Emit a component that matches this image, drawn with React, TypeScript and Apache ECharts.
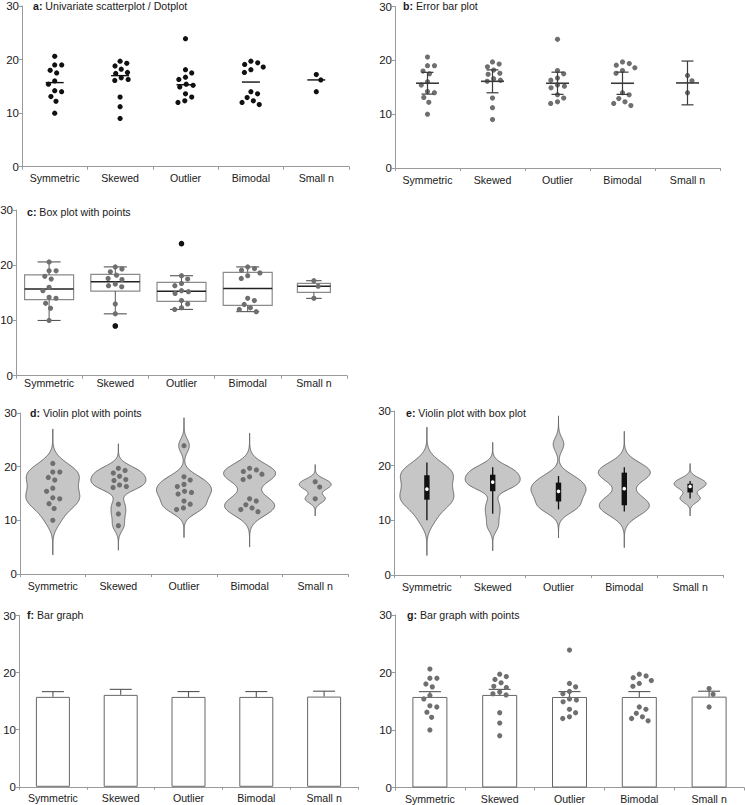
import React, { useEffect, useRef } from "react";
import * as echarts from "echarts";

// ---------- data ----------
const categories = ["Symmetric", "Skewed", "Outlier", "Bimodal", "Small n"];
const symmetric = [20.6, 19.0, 19.0, 18.0, 17.5, 16.0, 15.4, 14.2, 14.0, 13.1, 12.2, 10.0];
const skewed = [19.7, 19.3, 18.8, 18.2, 17.6, 17.4, 16.6, 16.3, 16.1, 13.0, 11.2, 9.0];
const outlier = [23.9, 18.1, 17.5, 16.7, 16.3, 15.4, 15.2, 14.9, 13.6, 13.0, 12.3, 12.0];
const bimodal = [19.7, 19.4, 19.1, 18.6, 18.1, 17.6, 14.0, 13.6, 12.9, 12.3, 12.0, 11.6];
const smallN = [17.2, 16.2, 14.0];
const groups = [symmetric, skewed, outlier, bimodal, smallN];
const tCrit = [2.201, 2.201, 2.201, 2.201, 4.303]; // t(0.975, n-1)
const yTicks = [0, 10, 20, 30];
const panelLetters = ["a", "b", "c", "d", "e", "f", "g"];
const panelTitles = [
  "Univariate scatterplot / Dotplot",
  "Error bar plot",
  "Box plot with points",
  "Violin plot with points",
  "Violin plot with box plot",
  "Bar graph",
  "Bar graph with points",
];

// ---------- layout / style ----------
const GRIDS = [
  { left: 22, top: 6, width: 327, height: 160.7 },
  { left: 395, top: 6.5, width: 325, height: 161.5 },
  { left: 16, top: 210, width: 331, height: 165.7 },
  { left: 20, top: 413, width: 328, height: 161 },
  { left: 394, top: 411, width: 329, height: 164 },
  { left: 19, top: 615.5, width: 339, height: 171.3 },
  { left: 395, top: 615, width: 349, height: 172.5 },
];
const TITLE_POS = [
  [33, 6], [403, 6], [27, 211.5], [30, 412.5], [406, 413], [27, 615], [407, 615],
];
const X_LABEL_MARGIN = [6, 6, 2, 6, 6, 6, 6];
const FONT = "'Liberation Sans', Arial, Helvetica, sans-serif";
const AXIS_COLOR = "#9a9a9a";
const TEXT_COLOR = "#1a1a1a";
const GREY_PT = "#6f6f6f";
const PT_R = 2.6;
const SWARM_D = 7.0;
const BOX_W = [49, 49, 49, 49, 33];
const VIOLIN_HW = [27, 27.5, 27.5, 26, 16];
const VIOLIN_BW_ADJ = 0.88;
const VIOLIN_CUT = 4.2;

// ---------- statistics ----------
function quantile(sorted: number[], p: number) {
  const h = (sorted.length - 1) * p;
  const lo = Math.floor(h);
  const hi = Math.min(lo + 1, sorted.length - 1);
  return sorted[lo] + (h - lo) * (sorted[hi] - sorted[lo]);
}
const stats = groups.map((vals, gi) => {
  const n = vals.length;
  const sorted = [...vals].sort((a, b) => a - b);
  const mean = vals.reduce((s, v) => s + v, 0) / n;
  const sd = Math.sqrt(vals.reduce((s, v) => s + (v - mean) ** 2, 0) / (n - 1));
  const se = sd / Math.sqrt(n);
  const ci = tCrit[gi] * se;
  const q1 = quantile(sorted, 0.25);
  const med = quantile(sorted, 0.5);
  const q3 = quantile(sorted, 0.75);
  const iqr = q3 - q1;
  const inside = sorted.filter((v) => v >= q1 - 1.5 * iqr && v <= q3 + 1.5 * iqr);
  const wLo = inside[0];
  const wHi = inside[inside.length - 1];
  const outliers = sorted.filter((v) => v < wLo || v > wHi);
  const bw = VIOLIN_BW_ADJ * 0.9 * Math.min(sd, iqr / 1.34) * Math.pow(n, -0.2);
  return { n, sorted, mean, sd, se, ci, q1, med, q3, wLo, wHi, outliers, bw };
});
const means = stats.map((s) => +s.mean.toFixed(3));

// ---------- helpers ----------
function swarm(ys: number[], D: number): number[] {
  const order = ys.map((_, i) => i).sort((a, b) => ys[a] - ys[b]);
  const xs = new Array(ys.length).fill(0);
  const placed: number[] = [];
  let side = 1;
  for (const i of order) {
    const cands = [0];
    for (const j of placed) {
      const dy = ys[i] - ys[j];
      if (Math.abs(dy) < D) {
        const dx = Math.sqrt(D * D - dy * dy);
        cands.push(xs[j] + dx, xs[j] - dx);
      }
    }
    cands.sort((a, b) => Math.abs(a) - Math.abs(b) || side * (b - a));
    for (const c of cands) {
      let ok = true;
      for (const j of placed) {
        const dx = c - xs[j];
        const dy = ys[i] - ys[j];
        if (dx * dx + dy * dy < D * D - 0.05) {
          ok = false;
          break;
        }
      }
      if (ok) {
        xs[i] = c;
        if (c !== 0) side = c > 0 ? -1 : 1;
        break;
      }
    }
    placed.push(i);
  }
  return xs;
}
const ln = (x1: number, y1: number, x2: number, y2: number, stroke: string, lineWidth: number) => ({
  type: "line",
  shape: { x1, y1, x2, y2 },
  style: { stroke, lineWidth },
});

const renderPoints = (color: string) => (_p: any, api: any) => {
  const gi = api.value(0) as number;
  const vals = groups[gi];
  const cx = api.coord([gi, 0])[0];
  const ys = vals.map((v) => api.coord([gi, v])[1]);
  const xs = swarm(ys, SWARM_D);
  return {
    type: "group",
    children: vals.map((_, k) => ({
      type: "circle",
      shape: { cx: cx + xs[k], cy: ys[k], r: PT_R },
      style: { fill: color },
    })),
  };
};
const renderMedian = (_p: any, api: any) => {
  const gi = api.value(0) as number;
  const [cx, y] = api.coord([gi, stats[gi].med]);
  return ln(cx - 9, y, cx + 9, y, "#111", 1.4);
};
const renderCI = (_p: any, api: any) => {
  const gi = api.value(0) as number;
  const s = stats[gi];
  const [cx, ym] = api.coord([gi, s.mean]);
  const yl = api.coord([gi, s.mean - s.ci])[1];
  const yh = api.coord([gi, s.mean + s.ci])[1];
  const c = "#3a3a3a";
  return {
    type: "group",
    children: [
      ln(cx, yl, cx, yh, c, 1.2),
      ln(cx - 6, yl, cx + 6, yl, c, 1.2),
      ln(cx - 6, yh, cx + 6, yh, c, 1.2),
      ln(cx - 11.5, ym, cx + 11.5, ym, c, 1.6),
    ],
  };
};
const renderBox = (_p: any, api: any) => {
  const gi = api.value(0) as number;
  const s = stats[gi];
  const cx = api.coord([gi, 0])[0];
  const y1 = api.coord([gi, s.q1])[1];
  const y3 = api.coord([gi, s.q3])[1];
  const ym = api.coord([gi, s.med])[1];
  const ylo = api.coord([gi, s.wLo])[1];
  const yhi = api.coord([gi, s.wHi])[1];
  const hw = BOX_W[gi] / 2;
  const cw = hw * 0.47;
  const wc = "#555";
  return {
    type: "group",
    children: [
      {
        type: "rect",
        shape: { x: cx - hw, y: y3, width: hw * 2, height: y1 - y3 },
        style: { fill: "#fff", stroke: "#8a8a8a", lineWidth: 1.2 },
      },
      ln(cx, y3, cx, yhi, wc, 1),
      ln(cx, y1, cx, ylo, wc, 1),
      ln(cx - cw, yhi, cx + cw, yhi, wc, 1.1),
      ln(cx - cw, ylo, cx + cw, ylo, wc, 1.1),
      ln(cx - hw, ym, cx + hw, ym, "#222", 1.5),
    ],
  };
};
const renderOutliers = (_p: any, api: any) => {
  const gi = api.value(0) as number;
  const s = stats[gi];
  return {
    type: "group",
    children: s.outliers.map((v) => {
      const [cx, cy] = api.coord([gi, v]);
      return { type: "circle", shape: { cx, cy, r: PT_R + 0.2 }, style: { fill: "#111" } };
    }),
  };
};
const renderViolin = (_p: any, api: any) => {
  const gi = api.value(0) as number;
  const s = stats[gi];
  const vals = groups[gi];
  const lo = s.sorted[0] - VIOLIN_CUT * s.bw;
  const hi = s.sorted[s.n - 1] + VIOLIN_CUT * s.bw;
  const N = 180;
  const ys: number[] = [];
  const ds: number[] = [];
  for (let k = 0; k <= N; k++) {
    const y = lo + ((hi - lo) * k) / N;
    let d = 0;
    for (const v of vals) d += Math.exp(-0.5 * ((y - v) / s.bw) ** 2);
    ys.push(y);
    ds.push(d);
  }
  const maxD = Math.max(...ds);
  const cx = api.coord([gi, 0])[0];
  const hw = VIOLIN_HW[gi];
  const right: number[][] = [];
  const left: number[][] = [];
  for (let k = 0; k <= N; k++) {
    const py = api.coord([gi, ys[k]])[1];
    const w = (ds[k] / maxD) * hw;
    right.push([cx + w, py]);
    left.push([cx - w, py]);
  }
  return {
    type: "polygon",
    shape: { points: right.concat(left.reverse()) },
    style: { fill: "#c6c6c6", stroke: "#5e5e5e", lineWidth: 0.9, lineJoin: "round" },
  };
};
const renderInnerBox = (_p: any, api: any) => {
  const gi = api.value(0) as number;
  const s = stats[gi];
  const cx = api.coord([gi, 0])[0];
  const y1 = api.coord([gi, s.q1])[1];
  const y3 = api.coord([gi, s.q3])[1];
  const ym = api.coord([gi, s.med])[1];
  const ylo = api.coord([gi, s.wLo])[1];
  const yhi = api.coord([gi, s.wHi])[1];
  return {
    type: "group",
    children: [
      ln(cx, ylo, cx, yhi, "#111", 1.3),
      { type: "rect", shape: { x: cx - 2.7, y: y3, width: 5.4, height: y1 - y3 }, style: { fill: "#111" } },
      { type: "circle", shape: { cx, cy: ym, r: 1.8 }, style: { fill: "#fff" } },
    ],
  };
};
const renderSE = (_p: any, api: any) => {
  const gi = api.value(0) as number;
  const s = stats[gi];
  const [cx, ym] = api.coord([gi, s.mean]);
  const yh = api.coord([gi, s.mean + s.se])[1];
  const c = "#555";
  return {
    type: "group",
    children: [ln(cx, ym, cx, yh, c, 1.1), ln(cx - 11, yh, cx + 11, yh, c, 1.1)],
  };
};

const custom = (panel: number, renderItem: any, z = 3) => ({
  type: "custom",
  xAxisIndex: panel,
  yAxisIndex: panel,
  silent: true,
  z,
  data: categories.map((_, i) => [i, means[i]]),
  encode: { x: 0, y: 1 },
  renderItem,
});
const bars = (panel: number, barWidth: number) => ({
  type: "bar",
  xAxisIndex: panel,
  yAxisIndex: panel,
  silent: true,
  z: 1,
  barWidth,
  data: means,
  itemStyle: { color: "#ffffff", borderColor: "#666", borderWidth: 1 },
});

export default function App() {
  const ref = useRef<HTMLDivElement>(null);
  useEffect(() => {
    document.body.style.margin = "0";
    if (!ref.current) return;
    const chart = echarts.init(ref.current, undefined, { renderer: "svg" });
    const option: any = {
      animation: false,
      textStyle: { fontFamily: FONT },
      title: panelLetters.map((L, i) => ({
        text: `{b|${L}:} ${panelTitles[i]}`,
        left: TITLE_POS[i][0],
        top: TITLE_POS[i][1] - 6.5,
        padding: 0,
        textStyle: {
          fontFamily: FONT,
          fontSize: 10.6,
          fontWeight: "normal",
          color: TEXT_COLOR,
          lineHeight: 13,
          rich: { b: { fontFamily: FONT, fontWeight: "bold", fontSize: 10.6, color: TEXT_COLOR, lineHeight: 13 } },
        },
      })),
      grid: GRIDS.map((g) => ({ ...g, containLabel: false, outerBoundsMode: "none" })),
      xAxis: GRIDS.map((_, i) => ({
        type: "category",
        gridIndex: i,
        data: categories,
        boundaryGap: true,
        axisLine: { show: true, lineStyle: { color: AXIS_COLOR, width: 1 } },
        axisTick: { show: true, length: 3, interval: 0, lineStyle: { color: AXIS_COLOR } },
        axisLabel: { fontSize: 10.6, color: TEXT_COLOR, margin: X_LABEL_MARGIN[i], fontFamily: FONT, interval: 0, hideOverlap: false },
        splitLine: { show: false },
      })),
      yAxis: GRIDS.map((_, i) => ({
        type: "value",
        gridIndex: i,
        min: yTicks[0],
        max: yTicks[yTicks.length - 1],
        interval: yTicks[1] - yTicks[0],
        axisLine: { show: true, lineStyle: { color: AXIS_COLOR, width: 1 } },
        axisTick: { show: true, length: 3, lineStyle: { color: AXIS_COLOR } },
        axisLabel: { fontSize: 11.5, color: TEXT_COLOR, margin: 3, fontFamily: FONT },
        splitLine: { show: false },
      })),
      series: [
        // a
        custom(0, renderPoints("#111")),
        custom(0, renderMedian, 4),
        // b
        custom(1, renderPoints(GREY_PT)),
        custom(1, renderCI, 4),
        // c
        custom(2, renderBox, 2),
        custom(2, renderPoints(GREY_PT), 3),
        custom(2, renderOutliers, 4),
        // d
        custom(3, renderViolin, 2),
        custom(3, renderPoints(GREY_PT), 3),
        // e
        custom(4, renderViolin, 2),
        custom(4, renderInnerBox, 3),
        // f
        bars(5, 34),
        custom(5, renderSE, 3),
        // g
        bars(6, 35),
        custom(6, renderSE, 3),
        custom(6, renderPoints(GREY_PT), 4),
      ],
    };
    chart.setOption(option);
    return () => chart.dispose();
  }, []);
  return <div ref={ref} style={{ width: 745, height: 805 }} />;
}
